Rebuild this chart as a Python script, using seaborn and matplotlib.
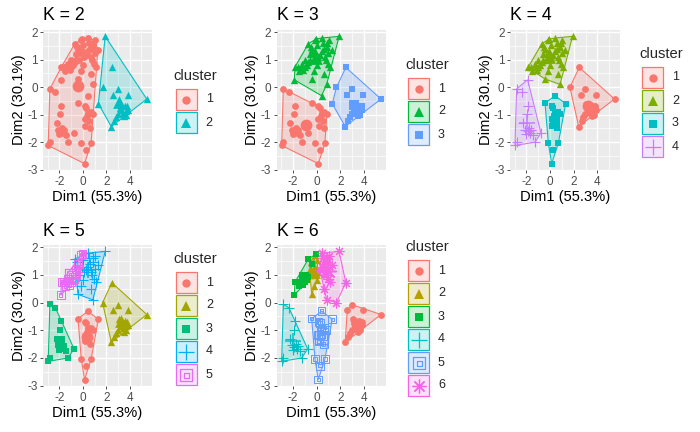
import numpy as np
import pandas as pd
import matplotlib
matplotlib.use("Agg")
import matplotlib.pyplot as plt
import seaborn as sns
from matplotlib.path import Path
from matplotlib.patches import Rectangle
from matplotlib.lines import Line2D
from matplotlib.ticker import FixedLocator

# ---------------- data (PCA coordinates) ----------------
dim1 = [2.96, 2.59, 3.89, 5.45, 2.42, 3.58, 3.80, 3.24, 3.66, 3.38, 2.96, 2.68, 2.82, 3.52, 3.18, 3.86, 3.05, 3.70,
        2.47, 1.68, 1.90, 1.32,
        0.42, 0.28, 0.85, 0.85, 0.99, 0.70, 1.13, 0.56, 1.04, 0.93, 0.65, 1.27, 0.42, 0.76, 0.60, 0.90,
        -0.14, -0.48, -0.28, -0.56, 0.00, -0.42, -0.30, -0.10, -0.60, 0.05, -0.20, 0.10,
        -1.89, -1.83, -1.27, -0.99, -1.13, -0.70, -1.50, -1.00, -0.85, -1.60, -0.05, -0.70, -1.20, -0.40,
        -2.82, -2.34, -1.83, -2.11, -1.69, -1.89, -0.76, -1.27, -2.82, -2.96, -1.41, -2.25, -1.95, -1.75, -2.00, -1.60,
        0.42, -0.42, 0.28, 0.66, 0.42, 0.14, 0.56, 0.85, -0.14, 0.70, 0.14, 0.28, 0.35, 0.15, 0.20, 0.60]
dim2 = [-0.07, -0.28, -0.28, -0.43, -1.43, -0.68, -0.70, -0.84, -0.86, -0.93, -0.99, -1.23, -1.10, -1.05, -0.74, -0.82, -0.60, -1.00,
        0.72, 0.00, 1.85, -0.60,
        1.79, 1.17, 0.10, 1.48, 1.23, 1.11, 0.74, 1.60, 1.70, 0.86, 0.49, 1.36, 1.30, 0.99, 1.40, 1.62,
        1.73, 1.48, 1.23, 0.99, 0.80, 0.30, 1.00, 1.30, 1.20, 1.55, 0.60, 1.10,
        0.27, 0.74, 0.86, 0.74, 0.62, 0.93, 0.60, 1.00, 0.80, 0.75, 1.75, 1.58, 0.75, 1.40,
        -0.06, -0.19, -0.68, -1.54, -1.67, -1.60, -1.67, -2.00, -2.00, -2.12, -1.73, -1.30, -0.99, -1.50, -1.70, -1.55,
        -0.31, -0.58, -0.74, -0.90, -0.93, -1.17, -1.23, -0.99, -2.04, -2.04, -2.78, -2.28, -1.05, -0.70, -1.40, -1.50]

k2 = [2]*18 + [2, 2, 2, 2] + [1]*16 + [1]*12 + [1]*14 + [1]*16 + [1]*16
k3 = [3]*18 + [3, 3, 2, 3] + [2]*16 + [2]*12 + [2]*14 + [1]*16 + [2] + [1]*15
k4 = [1]*18 + [1, 1, 2, 3] + [2]*16 + [2]*12 + [4] + [2]*13 + [4]*16 + [3]*16
k5 = [2]*18 + [2, 2, 4, 1] + [4]*16 + [5, 4, 5, 5, 4, 4, 4, 4, 5, 4, 4, 4] + [5]*11 + [4, 5, 5] + [3]*16 + [1]*16
k6 = [1]*18 + [6, 6, 6, 5] + [6]*16 + [2]*12 + [3]*14 + [4]*16 + [5]*16

titles = ["K = 2", "K = 3", "K = 4", "K = 5", "K = 6"]
cluster_labels = [k2, k3, k4, k5, k6]
xlab = "Dim1 (55.3%)"
ylab = "Dim2 (30.1%)"

palettes = {
    2: ["#F8766D", "#00BFC4"],
    3: ["#F8766D", "#00BA38", "#619CFF"],
    4: ["#F8766D", "#7CAE00", "#00BFC4", "#C77CFF"],
    5: ["#F8766D", "#A3A500", "#00BF7D", "#00B0F6", "#E76BF3"],
    6: ["#F8766D", "#B79F00", "#00BA38", "#00BFC4", "#619CFF", "#F564E3"],
}

# ---------------- style ----------------
sns.set_theme(style="darkgrid")
plt.rcParams["font.family"] = ["Liberation Sans", "DejaVu Sans"]
plt.rcParams["axes.unicode_minus"] = False

W, H = 700, 432
fig = plt.figure(figsize=(7, 4.32), dpi=100)
fig.patch.set_facecolor("white")

SQ = Path([(-1, -1), (1, -1), (1, 1), (-1, 1), (-1, -1),
           (-0.45, -0.45), (0.45, -0.45), (0.45, 0.45), (-0.45, 0.45), (-0.45, -0.45)],
          [Path.MOVETO, Path.LINETO, Path.LINETO, Path.LINETO, Path.CLOSEPOLY,
           Path.MOVETO, Path.LINETO, Path.LINETO, Path.LINETO, Path.CLOSEPOLY])
markers = ["o", "^", "s", "+", SQ, (8, 2, 0)]
sizes = [24, 28, 20, 45, 30, 42]
leg_ms = [6, 7, 6, 11, 8, 10]


def hull(pts):
    pts = sorted(set(map(tuple, pts)))
    if len(pts) < 3:
        return pts
    def cross(o, a, b):
        return (a[0]-o[0])*(b[1]-o[1]) - (a[1]-o[1])*(b[0]-o[0])
    lower, upper = [], []
    for p in pts:
        while len(lower) >= 2 and cross(lower[-2], lower[-1], p) <= 0:
            lower.pop()
        lower.append(p)
    for p in reversed(pts):
        while len(upper) >= 2 and cross(upper[-2], upper[-1], p) <= 0:
            upper.pop()
        upper.append(p)
    return lower[:-1] + upper[:-1]


def rect(l, t, r, b):
    return [l / W, 1 - b / H, (r - l) / W, (b - t) / H]


panels = [
    dict(box=(43.3, 30, 151.7, 170), leg=(175.7, 89)),
    dict(box=(276.7, 30, 386, 170), leg=(408, 78)),
    dict(box=(510, 30, 619.5, 170), leg=(642, 67)),
    dict(box=(43.3, 245, 151.7, 386), leg=(176, 272)),
    dict(box=(276.7, 245, 386, 386), leg=(408, 260)),
]

df = pd.DataFrame({"Dim1": dim1, "Dim2": dim2})
xr = df.Dim1.max() - df.Dim1.min()
yr = df.Dim2.max() - df.Dim2.min()
xlim = (df.Dim1.min() - 0.05 * xr, df.Dim1.max() + 0.05 * xr)
ylim = (df.Dim2.min() - 0.05 * yr, df.Dim2.max() + 0.05 * yr)

for title, labs, pan in zip(titles, cluster_labels, panels):
    k = max(labs)
    cols = palettes[k]
    d = df.copy()
    d["cluster"] = labs
    l, t, r, b = pan["box"]
    ax = fig.add_axes(rect(l, t, r, b))
    ax.set_facecolor("#EBEBEB")
    for c in range(1, k + 1):
        sub = d[d.cluster == c]
        col = cols[c - 1]
        hp = np.array(hull(sub[["Dim1", "Dim2"]].values))
        ax.fill(hp[:, 0], hp[:, 1], facecolor=col, alpha=0.2, zorder=2)
        ax.fill(hp[:, 0], hp[:, 1], facecolor="none", edgecolor=col, lw=0.8, zorder=2.5)
        m = markers[c - 1]
        cx, cy = sub.Dim1.mean(), sub.Dim2.mean()
        if m is SQ:
            ax.scatter(sub.Dim1, sub.Dim2, marker=SQ, s=sizes[c - 1], facecolors="none",
                       edgecolors=col, linewidths=0.7, zorder=3)
            ax.scatter([cx], [cy], marker=SQ, s=sizes[c - 1] * 3, facecolors="none",
                       edgecolors=col, linewidths=0.9, zorder=3)
        elif m in ("+",) or isinstance(m, tuple):
            sns.scatterplot(data=sub, x="Dim1", y="Dim2", marker=m, color=col, s=sizes[c - 1],
                            linewidth=0.8, ax=ax, legend=False, zorder=3)
            sns.scatterplot(x=[cx], y=[cy], marker=m, color=col, s=sizes[c - 1] * 3,
                            linewidth=1.1, ax=ax, legend=False, zorder=3)
        else:
            sns.scatterplot(data=sub, x="Dim1", y="Dim2", marker=m, color=col, s=sizes[c - 1],
                            linewidth=0, ax=ax, legend=False, zorder=3)
            sns.scatterplot(x=[cx], y=[cy], marker=m, color=col, s=sizes[c - 1] * 3,
                            linewidth=0, ax=ax, legend=False, zorder=3)
    ax.set_xlim(xlim)
    ax.set_ylim(ylim)
    ax.xaxis.set_major_locator(FixedLocator([-2, 0, 2, 4]))
    ax.xaxis.set_minor_locator(FixedLocator([-3, -1, 1, 3, 5]))
    ax.yaxis.set_major_locator(FixedLocator([-3, -2, -1, 0, 1, 2]))
    ax.yaxis.set_minor_locator(FixedLocator([-2.5, -1.5, -0.5, 0.5, 1.5]))
    ax.grid(which="major", color="white", lw=1.0)
    ax.grid(which="minor", color="white", lw=0.5)
    ax.set_axisbelow(True)
    for s in ax.spines.values():
        s.set_visible(False)
    ax.tick_params(which="major", length=2.5, width=0.6, color="#333333",
                   labelsize=8.45, labelcolor="#4D4D4D", pad=1.5, bottom=True, left=True)
    ax.tick_params(which="minor", length=0, bottom=False, left=False)
    ax.set_xlabel(xlab, fontsize=10.6, color="black", labelpad=2)
    ax.set_ylabel(ylab, fontsize=10.6, color="black", labelpad=1)
    fig.text(l / W, 1 - (t - 14) / H, title, fontsize=12.7, color="black", va="center", ha="left")

    # legend
    lx, ltop = pan["leg"]
    fig.text((lx - 2.5) / W, 1 - (ltop - 13) / H, "cluster", fontsize=10.6, va="center", ha="left")
    for c in range(1, k + 1):
        col = cols[c - 1]
        top = ltop + (c - 1) * 23
        fig.add_artist(Rectangle((lx / W, 1 - (top + 21) / H), 21 / W, 21 / H, transform=fig.transFigure,
                                 facecolor=matplotlib.colors.to_rgba(col, 0.2), edgecolor=col, lw=0.9))
        m = markers[c - 1]
        filled = m in ("o", "^", "s")
        fig.add_artist(Line2D([(lx + 10.5) / W], [1 - (top + 10.5) / H], transform=fig.transFigure,
                              marker=m, ms=leg_ms[c - 1], color=col, lw=0,
                              markerfacecolor=col if filled else "none", markeredgecolor=col,
                              markeredgewidth=0 if filled else 0.9))
        fig.text((lx + 30) / W, 1 - (top + 10.5) / H, str(c), fontsize=9, va="center", ha="left")

fig.savefig("out.png", dpi=100, facecolor="white")
